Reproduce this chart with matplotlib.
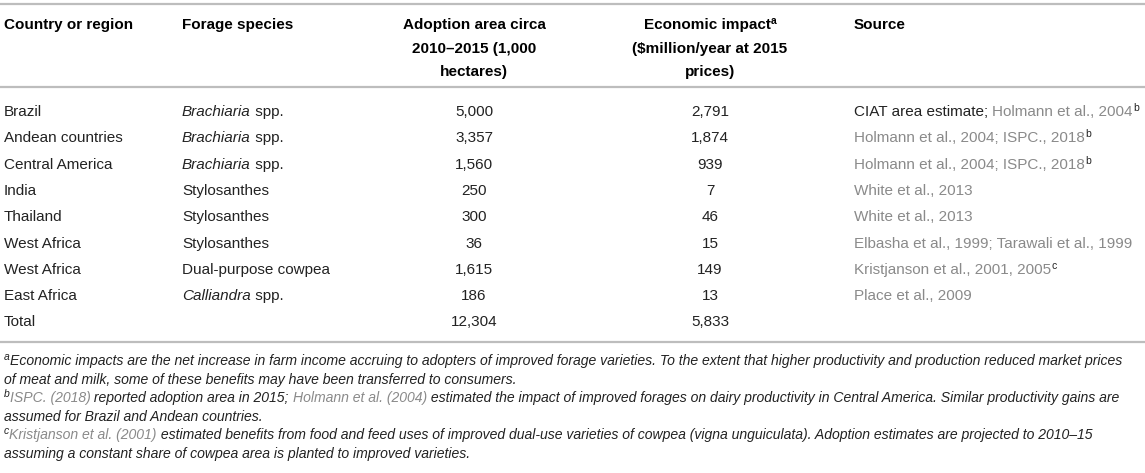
import matplotlib
matplotlib.use("Agg")
import matplotlib.pyplot as plt

plt.rcParams['font.family'] = ['Liberation Sans', 'DejaVu Sans']

# table data
headers = ["Country or region", "Forage species",
           "Adoption area circa\n2010\u20132015 (1,000\nhectares)",
           "Economic impact\n($million/year at 2015\nprices)", "Source"]
regions = ["Brazil", "Andean countries", "Central America", "India", "Thailand",
           "West Africa", "West Africa", "East Africa"]
species = ["Brachiaria spp.", "Brachiaria spp.", "Brachiaria spp.", "Stylosanthes",
           "Stylosanthes", "Stylosanthes", "Dual-purpose cowpea", "Calliandra spp."]
italic_genus = ["Brachiaria", "Calliandra"]
areas = [5000, 3357, 1560, 250, 300, 36, 1615, 186]
impacts = [2791, 1874, 939, 7, 46, 15, 149, 13]
total_area = 12304
total_impact = 5833
# source runs: (text, kind) with kind 't' plain, 'c' citation, 's' superscript
sources = [
    [("CIAT area estimate; ", "t"), ("Holmann et al., 2004", "c"), ("b", "s")],
    [("Holmann et al., 2004; ISPC., 2018", "c"), ("b", "s")],
    [("Holmann et al., 2004; ISPC., 2018", "c"), ("b", "s")],
    [("White et al., 2013", "c")],
    [("White et al., 2013", "c")],
    [("Elbasha et al., 1999; Tarawali et al., 1999", "c")],
    [("Kristjanson et al., 2001, 2005", "c"), ("c", "s")],
    [("Place et al., 2009", "c")],
]
footnotes = [
    [[("a", "s"), ("Economic impacts are the net increase in farm income accruing to adopters of improved forage varieties. To the extent that higher productivity and production reduced market prices", "t")],
     [("of meat and milk, some of these benefits may have been transferred to consumers.", "t")]],
    [[("b", "s"), ("ISPC. (2018)", "c"), (" reported adoption area in 2015; ", "t"), ("Holmann et al. (2004)", "c"),
      (" estimated the impact of improved forages on dairy productivity in Central America. Similar productivity gains are", "t")],
     [("assumed for Brazil and Andean countries.", "t")]],
    [[("c", "s"), ("Kristjanson et al. (2001)", "c"),
      (" estimated benefits from food and feed uses of improved dual-use varieties of cowpea (vigna unguiculata). Adoption estimates are projected to 2010\u201315", "t")],
     [("assuming a constant share of cowpea area is planted to improved varieties.", "t")]],
]

TEXT = '#222222'
CITE = '#8a8a8a'
LINE = '#bdbdbd'
FS = 11
FS_NOTE = 10.1
FS_SUP = 7.5

fig = plt.figure(figsize=(11.45, 4.73), dpi=100)
ax = fig.add_axes([0, 0, 1, 1])
ax.set_xlim(0, 1145)
ax.set_ylim(473, 0)
ax.axis('off')
renderer = fig.canvas.get_renderer()


def text_width(s, **kw):
    # bars on both sides so spaces at the ends are counted
    t1 = ax.text(0, 0, '|' + s + '|', **kw)
    t2 = ax.text(0, 0, '||', **kw)
    w = t1.get_window_extent(renderer).width - t2.get_window_extent(renderer).width
    t1.remove()
    t2.remove()
    return w


def draw_runs(x, y, runs, size, italic=False, align='left'):
    style = 'italic' if italic else 'normal'
    pieces = []
    for s, kind in runs:
        kw = dict(fontsize=FS_SUP if kind == 's' else size, fontstyle=style,
                  color=CITE if kind == 'c' else TEXT)
        if kind == 'i':
            kw['fontstyle'] = 'italic'
        pieces.append((s, kind, kw, text_width(s, **kw)))
    total = sum(p[3] for p in pieces)
    if align == 'center':
        x = x - total / 2
    for s, kind, kw, w in pieces:
        yy = y - 5 if kind == 's' else y
        ax.text(x, yy, s, va='baseline', ha='left', **kw)
        x += w


col_x = [4, 182, 474, 710, 854]

# rules
for y in [4, 87, 342]:
    ax.plot([0, 1145], [y, y], color=LINE, lw=1.6, solid_capstyle='butt')

# header
head_base = [29, 53, 76]
for i, h in enumerate(headers):
    for j, line in enumerate(h.split('\n')):
        if i in (2, 3):
            runs = [(line, 't')]
            if i == 3 and j == 0:
                runs.append(('a', 's'))
            pieces_w = sum(text_width(s, fontsize=FS_SUP if k == 's' else FS, fontweight='bold')
                           for s, k in runs)
            x = col_x[i] - pieces_w / 2
            for s, k in runs:
                fs = FS_SUP if k == 's' else FS
                ax.text(x, head_base[j] - (5 if k == 's' else 0), s, fontsize=fs,
                        fontweight='bold', color='black', va='baseline')
                x += text_width(s, fontsize=fs, fontweight='bold')
        else:
            ax.text(col_x[i], head_base[j], line, fontsize=FS, fontweight='bold',
                    color='black', va='baseline')

# body rows
row0 = 116
step = 26.3
for r in range(len(regions)):
    y = row0 + r * step
    ax.text(col_x[0], y, regions[r], fontsize=FS, color=TEXT, va='baseline')
    genus = species[r].split(' ')[0]
    if genus in italic_genus:
        draw_runs(col_x[1], y, [(genus, 'i'), (species[r][len(genus):], 't')], FS)
    else:
        draw_runs(col_x[1], y, [(species[r], 't')], FS)
    ax.text(col_x[2], y, f"{areas[r]:,}", fontsize=FS, color=TEXT, va='baseline', ha='center')
    ax.text(col_x[3], y, f"{impacts[r]:,}", fontsize=FS, color=TEXT, va='baseline', ha='center')
    draw_runs(col_x[4], y, sources[r], FS)

y = row0 + len(regions) * step
ax.text(col_x[0], y, "Total", fontsize=FS, color=TEXT, va='baseline')
ax.text(col_x[2], y, f"{total_area:,}", fontsize=FS, color=TEXT, va='baseline', ha='center')
ax.text(col_x[3], y, f"{total_impact:,}", fontsize=FS, color=TEXT, va='baseline', ha='center')

# footnotes
note_base = 365
note_step = 18.5
k = 0
for note in footnotes:
    for line in note:
        draw_runs(4, note_base + k * note_step, line, FS_NOTE, italic=True)
        k += 1

fig.savefig('out.png', dpi=100)
